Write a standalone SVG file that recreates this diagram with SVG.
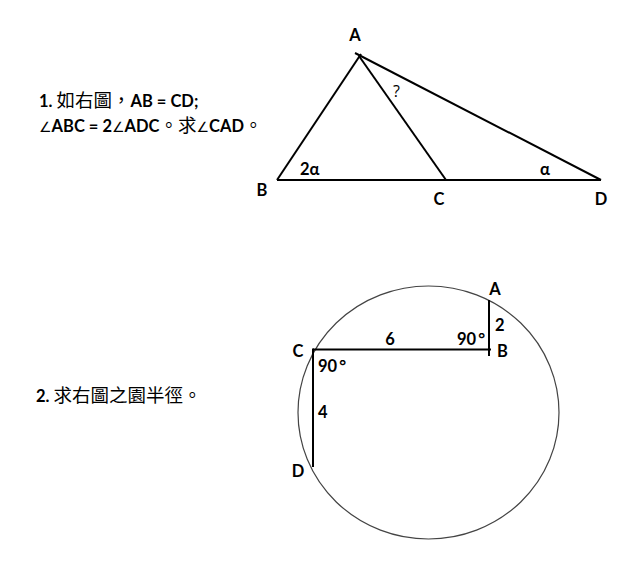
<svg xmlns="http://www.w3.org/2000/svg" width="640" height="562" viewBox="0 0 640 562">
<style>
.t{font-family:Lato,"Open Sans","Noto Sans CJK TC",sans-serif;font-weight:bold;font-size:16.5px;fill:#000}
.c{font-family:"Noto Sans CJK TC",sans-serif;font-weight:normal;font-size:18.5px}
.g{font-family:"DejaVu Sans",sans-serif;font-weight:normal;font-size:14px}
.q{font-family:"Open Sans",sans-serif;font-weight:normal;font-size:16px;fill:#000}
.ln{stroke:#000;stroke-width:2;fill:none;stroke-linecap:butt}
.circ{stroke:#444;stroke-width:1.2;fill:none}
</style>
<rect width="640" height="562" fill="#fff"/>
<g id="problem1-text">
<text class="t" x="39" y="107">1. <tspan class="c">如右圖，</tspan>AB = CD;</text>
<text class="t" x="39" y="132"><tspan class="g">∠</tspan>ABC = 2<tspan class="g">∠</tspan>ADC<tspan class="c">。求</tspan><tspan class="g">∠</tspan>CAD<tspan class="c">。</tspan></text>
</g>
<g id="problem2-text">
<text class="t" x="36" y="402">2. <tspan class="c">求右圖之園半徑。</tspan></text>
</g>
<g id="connectors">
<line class="ln" x1="277" y1="180" x2="601" y2="180"/>
<line class="ln" x1="277" y1="180" x2="361" y2="54"/>
<line class="ln" x1="359" y1="56" x2="446" y2="180"/>
<line class="ln" x1="355" y1="53" x2="601" y2="180"/>
<ellipse class="circ" cx="428.5" cy="412.5" rx="130.5" ry="126.5"/>
<line class="ln" x1="489" y1="300" x2="489" y2="356"/>
<line class="ln" x1="313" y1="349.5" x2="491" y2="349.5"/>
<line class="ln" x1="313" y1="348.5" x2="313" y2="467"/>
</g>
<g id="triangle-labels">
<text class="t" x="355" y="41" text-anchor="middle">A</text>
<text class="t" x="262" y="196" text-anchor="middle">B</text>
<text class="t" x="439" y="205" text-anchor="middle">C</text>
<text class="t" x="601" y="205" text-anchor="middle">D</text>
<text class="t" x="300" y="175">2α</text>
<text class="t" x="540" y="175">α</text>
<text class="q" x="393" y="97">?</text>
</g>
<g id="circle-labels">
<text class="t" x="495" y="295" text-anchor="middle">A</text>
<text class="t" x="495" y="331">2</text>
<text class="t" x="457" y="345">90<tspan dx="2">°</tspan></text>
<text class="t" x="497" y="357">B</text>
<text class="t" x="298" y="357" text-anchor="middle">C</text>
<text class="t" x="390" y="345" text-anchor="middle">6</text>
<text class="t" x="318" y="372">90<tspan dx="2">°</tspan></text>
<text class="t" x="318" y="418">4</text>
<text class="t" x="298" y="477" text-anchor="middle">D</text>
</g>
</svg>
